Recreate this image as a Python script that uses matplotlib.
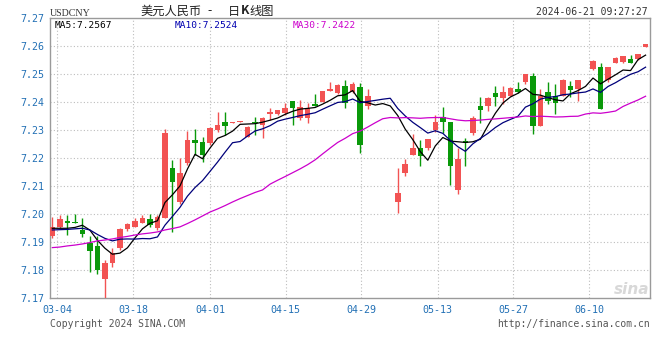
import numpy as np
import matplotlib
matplotlib.use("Agg")
import matplotlib.pyplot as plt

plt.rcParams['font.family'] = ['DejaVu Sans Mono']

# ---------------- data ----------------
# None = no candle drawn that day (market closed), close kept flat for the averages
opens = [7.1922, 7.1955, 7.1975, 7.1970, 7.1943, 7.1895, 7.1886, 7.1768, 7.1824, 7.1878,
         7.1946, 7.1955, 7.1969, 7.1981, 7.1949, 7.1986, 7.2163, 7.2044, 7.2181, 7.2264,
         7.2258, 7.2253, 7.2300, 7.2330, 7.2326, 7.2330, 7.2276, 7.2330, 7.2318, 7.2356,
         7.2356, 7.2360, 7.2404, 7.2342, 7.2342, 7.2392, 7.2401, 7.2440, 7.2431, 7.2458,
         7.2437, 7.2455, 7.2386, None, None, 7.2421, 7.2044, 7.2148, 7.2211, 7.2235,
         7.2237, 7.2300, 7.2347, 7.2327, 7.2086, 7.2261, 7.2288, 7.2387, 7.2386, 7.2433,
         7.2413, 7.2423, 7.2446, 7.2473, 7.2494, 7.2315, 7.2437, 7.2421, 7.2422, 7.2458,
         7.2446, 7.2479, 7.2517, 7.2526, 7.2479, 7.2540, 7.2544, 7.2554, 7.2553, 7.2595]
highs = [7.1990, 7.1996, 7.1996, 7.1999, 7.1985, 7.1921, 7.1921, 7.1836, 7.1878, 7.1950,
         7.1969, 7.1987, 7.1995, 7.1999, 7.1996, 7.2302, 7.2193, 7.2199, 7.2298, 7.2302,
         7.2276, 7.2311, 7.2366, 7.2366, 7.2330, 7.2332, 7.2314, 7.2347, 7.2347, 7.2378,
         7.2373, 7.2395, 7.2404, 7.2407, 7.2395, 7.2427, 7.2440, 7.2470, 7.2466, 7.2478,
         7.2473, 7.2467, 7.2445, None, None, 7.2421, 7.2163, 7.2195, 7.2285, 7.2264,
         7.2267, 7.2354, 7.2381, 7.2330, 7.2235, 7.2270, 7.2350, 7.2417, 7.2417, 7.2457,
         7.2457, 7.2452, 7.2473, 7.2499, 7.2502, 7.2445, 7.2473, 7.2464, 7.2481, 7.2475,
         7.2479, 7.2479, 7.2550, 7.2540, 7.2526, 7.2562, 7.2564, 7.2568, 7.2573, 7.2608]
lows = [7.1914, 7.1951, 7.1925, 7.1969, 7.1917, 7.1792, 7.1786, 7.1699, 7.1812, 7.1871,
        7.1939, 7.1954, 7.1967, 7.1954, 7.1943, 7.1984, 7.1937, 7.2036, 7.2175, 7.2211,
        7.2187, 7.2246, 7.2294, 7.2282, 7.2326, 7.2330, 7.2274, 7.2282, 7.2270, 7.2336,
        7.2354, 7.2354, 7.2318, 7.2336, 7.2324, 7.2386, 7.2400, 7.2439, 7.2429, 7.2377,
        7.2431, 7.2219, 7.2374, None, None, 7.2421, 7.2005, 7.2136, 7.2211, 7.2171,
        7.2230, 7.2294, 7.2288, 7.2104, 7.2071, 7.2171, 7.2282, 7.2324, 7.2369, 7.2386,
        7.2393, 7.2420, 7.2431, 7.2464, 7.2286, 7.2315, 7.2393, 7.2357, 7.2422, 7.2419,
        7.2405, 7.2479, 7.2515, 7.2375, 7.2473, 7.2538, 7.2538, 7.2538, 7.2551, 7.2595]
closes = [7.1955, 7.1981, 7.1967, 7.1969, 7.1927, 7.1869, 7.1800, 7.1824, 7.1862, 7.1946,
          7.1964, 7.1976, 7.1987, 7.1961, 7.1991, 7.2290, 7.2115, 7.2145, 7.2264, 7.2252,
          7.2211, 7.2306, 7.2318, 7.2315, 7.2330, 7.2332, 7.2312, 7.2324, 7.2342, 7.2365,
          7.2371, 7.2378, 7.2378, 7.2381, 7.2378, 7.2387, 7.2439, 7.2446, 7.2461, 7.2395,
          7.2463, 7.2246, 7.2421, 7.2421, 7.2421, 7.2421, 7.2074, 7.2177, 7.2235, 7.2207,
          7.2267, 7.2330, 7.2327, 7.2171, 7.2195, 7.2255, 7.2342, 7.2371, 7.2413, 7.2419,
          7.2437, 7.2449, 7.2437, 7.2499, 7.2315, 7.2422, 7.2405, 7.2398, 7.2479, 7.2443,
          7.2479, 7.2479, 7.2548, 7.2375, 7.2526, 7.2558, 7.2564, 7.2538, 7.2571, 7.2606]

# moving-average values at the start of the window (earlier data is off-chart)
ma5_head = [7.1949, 7.1949, 7.1949, 7.1952]
ma10_head = [7.1943, 7.1944, 7.1945, 7.1947, 7.1949, 7.1943, 7.1927, 7.1913, 7.1904]
ma30_head = [7.1880, 7.1882, 7.1886, 7.1889, 7.1893, 7.1898, 7.1904, 7.1907, 7.1911, 7.1916,
             7.1920, 7.1925, 7.1929, 7.1932, 7.1936, 7.1943, 7.1948, 7.1954, 7.1966, 7.1979,
             7.1993, 7.2007, 7.2018, 7.2030, 7.2043, 7.2055, 7.2066, 7.2077, 7.2086]

date_labels = ["03-04", "03-18", "04-01", "04-15", "04-29", "05-13", "05-27", "06-10"]
date_pos = [0.67, 10.8, 21.0, 31.1, 41.1, 51.3, 61.4, 71.5]
y_ticks = [7.17, 7.18, 7.19, 7.20, 7.21, 7.22, 7.23, 7.24, 7.25, 7.26, 7.27]
ma_labels = ["MA5:7.2567", "MA10:7.2524", "MA30:7.2422"]


def moving_average(vals, n, head):
    c = np.asarray(vals, dtype=float)
    out = np.empty(len(c))
    out[:len(head)] = head
    for i in range(len(head), len(c)):
        out[i] = c[i - n + 1:i + 1].mean()
    return out


ma5 = moving_average(closes, 5, ma5_head)
ma10 = moving_average(closes, 10, ma10_head)
ma30 = moving_average(closes, 30, ma30_head)

UP = '#f25353'
DOWN = '#0a990a'
TICK = '#2270b5'
GRID = '#bdbdbd'
FRAME = '#9a9a9a'

W, H = 660, 360
fig = plt.figure(figsize=(W / 100, H / 100), dpi=100)
fig.patch.set_facecolor('white')
ax = fig.add_axes([50 / W, 62 / H, 600 / W, 280 / H])

o = np.array(opens, dtype=float); c = np.array(closes, dtype=float)
h = np.array(highs, dtype=float); l = np.array(lows, dtype=float)
x = np.arange(len(c))
drawn = ~np.isnan(o)
xd, od, cd, hd, ld = x[drawn], o[drawn], c[drawn], h[drawn], l[drawn]
cols = [UP if cc >= oo else DOWN for oo, cc in zip(od, cd)]

ax.vlines(xd, ld, hd, colors=cols, linewidth=1.0, zorder=3)
body_bottom = np.minimum(od, cd)
body_h = np.maximum(np.abs(cd - od), 0.00004)
ax.bar(xd, body_h, bottom=body_bottom, width=0.74, color=cols, linewidth=0, zorder=4)

ax.plot(x, ma5, color='#000000', lw=0.9, zorder=5)
ax.plot(x, ma10, color='#00007a', lw=0.9, zorder=5)
ax.plot(x, ma30, color='#cc00cc', lw=0.9, zorder=5)

ax.set_xlim(-0.31, 79.59)
ax.set_ylim(7.17, 7.27)

for yv in y_ticks[1:-1]:
    ax.axhline(yv, color=GRID, lw=0.8, ls=(0, (1, 2)), zorder=1)
for xv in date_pos:
    ax.axvline(xv, color=GRID, lw=0.8, ls=(0, (1, 2)), zorder=1)

ax.set_yticks(y_ticks)
ax.set_yticklabels([f"{v:.2f}" for v in y_ticks])
ax.set_xticks(date_pos)
ax.set_xticklabels(date_labels)
ax.tick_params(axis='both', length=0, labelsize=7.2, labelcolor=TICK)
ax.tick_params(axis='y', pad=4)
ax.tick_params(axis='x', pad=5)
for s in ax.spines.values():
    s.set_color(FRAME)
    s.set_linewidth(1.0)

# MA legend inside the box
ma_cols = ['#000000', '#0000b0', '#cc00cc']
ma_x = [55, 175, 293]
for t, cc, xx in zip(ma_labels, ma_cols, ma_x):
    fig.text(xx / W, 1 - 25 / H, t, color=cc, fontsize=6.8, va='center', ha='left')

# header texts
fig.text(50 / W, 1 - 13 / H, "USDCNY", family=['Liberation Serif', 'DejaVu Serif'],
         fontsize=7.2, color='#333333', va='center', ha='left')
cjk = ['Noto Sans CJK SC', 'DejaVu Sans']
fig.text(140 / W, 1 - 11 / H, "美元人民币", family=cjk, fontsize=8.8, color='#222222',
         va='center', ha='left')
fig.text(210 / W, 1 - 11 / H, "-", family=cjk, fontsize=8.8, color='#222222',
         va='center', ha='center')
fig.text(228 / W, 1 - 11 / H, "日", family=cjk, fontsize=8.8, color='#222222',
         va='center', ha='left')
fig.text(241 / W, 1 - 11 / H, "K", family=cjk, fontsize=8.8, weight='bold', color='#222222',
         va='center', ha='left')
fig.text(249 / W, 1 - 11 / H, "线图", family=cjk, fontsize=8.8, color='#222222',
         va='center', ha='left')
fig.text(648 / W, 1 - 12 / H, "2024-06-21 09:27:27", fontsize=7.0, color='#333333',
         va='center', ha='right')

# footer texts
fig.text(50 / W, 1 - 324 / H, "Copyright 2024 SINA.COM", fontsize=7.0, color='#555555',
         va='center', ha='left')
fig.text(650 / W, 1 - 324 / H, "http://finance.sina.com.cn", fontsize=7.0, color='#555555',
         va='center', ha='right')

# watermark
fig.text(632 / W, 1 - 289 / H, "sina", family=['DejaVu Sans'], fontsize=11, color='#d8d8d8',
         style='italic', weight='bold', va='center', ha='center', zorder=0)

fig.savefig('out.png', dpi=100)
